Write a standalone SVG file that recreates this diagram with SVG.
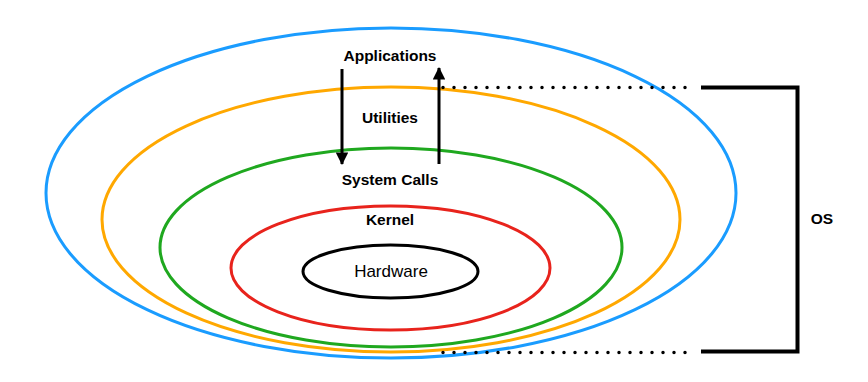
<svg xmlns="http://www.w3.org/2000/svg" width="868" height="382" viewBox="0 0 868 382">
<defs>
<style>
.ring{fill:none;stroke-width:3}
.lbl{font-family:"Liberation Sans",Arial,sans-serif;font-size:15.5px;font-weight:bold;fill:#000;text-anchor:middle}
.arrow{stroke:#000;stroke-width:3;fill:none}
.dots{stroke:#000;stroke-width:3.5;stroke-linecap:round;stroke-dasharray:0 11;fill:none}
.bracket{stroke:#000;stroke-width:4;fill:none}
</style>
<marker id="ah" viewBox="0 0 12 12" refX="11" refY="6" markerWidth="4.2" markerHeight="4.2" orient="auto" markerUnits="strokeWidth">
<path d="M0,0 L12,6 L0,12 z" fill="#000"/>
</marker>
</defs>
<rect width="868" height="382" fill="#fff"/>
<g id="applications">
<ellipse class="ring" cx="391" cy="193" rx="345" ry="165" stroke="#1a9cff"/>
<text class="lbl" x="390" y="61">Applications</text>
</g>
<g id="utilities">
<ellipse class="ring" cx="391" cy="219.5" rx="289" ry="132.5" stroke="#ffa800"/>
<text class="lbl" x="390" y="123">Utilities</text>
</g>
<g id="system-calls">
<ellipse class="ring" cx="391" cy="247.5" rx="231" ry="99.5" stroke="#1fa81f"/>
<text class="lbl" x="390" y="185">System Calls</text>
</g>
<g id="kernel">
<ellipse class="ring" cx="390.5" cy="268" rx="159.5" ry="62" stroke="#e8231c"/>
<text class="lbl" x="390" y="225">Kernel</text>
</g>
<g id="hardware">
<ellipse class="ring" cx="390.5" cy="271.5" rx="87.5" ry="26.5" stroke="#000"/>
<text class="lbl" x="391" y="277" style="font-weight:normal;font-size:17px">Hardware</text>
</g>
<g id="os">
<path class="bracket" d="M701,87.5 H797.5 V351.5 H701"/>
<text class="lbl" x="822" y="224">OS</text>
</g>
<g id="connectors">
<line class="arrow" x1="342" y1="69" x2="342" y2="164" marker-end="url(#ah)"/>
<line class="arrow" x1="439" y1="164" x2="439" y2="68" marker-end="url(#ah)"/>
<line class="dots" x1="443" y1="87.5" x2="690" y2="87.5"/>
<line class="dots" x1="443" y1="352.5" x2="690" y2="352.5"/>
</g>
</svg>
